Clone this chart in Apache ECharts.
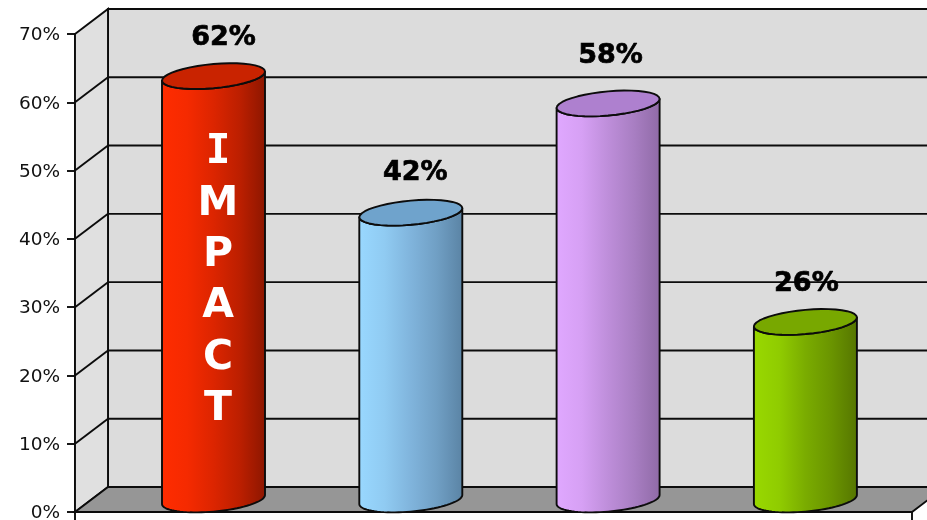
<!DOCTYPE html>
<html><head><meta charset="utf-8">
<style>html,body{margin:0;padding:0;background:#fff}#c{width:927px;height:520px}</style>
<script src="https://cdn.jsdelivr.net/npm/echarts@6/dist/echarts.min.js"></script>
</head><body><div id="c"></div>
<script>
const categories = ['A','B','C','D'];
const values = [62,42,58,26];
const yTicks = [0,10,20,30,40,50,60,70];
const barWord = ['I','M','P','A','C','T'];

// styling, separate from data
const DX=33, DY=-25, RX=51.5, TILT=4.5, RY=12.1, BAND=197.3, X0=197;
const labelNudgeX=[10,4.5,2.5,1];
const labelNudgeY=[1,0,-8,2];
const faces=[
 {stops:['#ff2c00','#f52a00','#dc2500','#bc1f00','#8c1600'],top:'#c92300'},
 {stops:['#99d8ff','#90cbf2','#80b4dc','#709fc4','#5a83a4'],top:'#6fa3cc'},
 {stops:['#e0a8ff','#d6a0f4','#be8eda','#a87ec2','#8f6aa6'],top:'#ae80cf'},
 {stops:['#99d900','#90cc00','#7aac00','#6a9400','#557500'],top:'#78a800'}
];
const INK='#0c0c0c';
const LW=1.9;

function ell(cx,cy,from,to){
  const pts=[];
  for(let i=0;i<=40;i++){
    const t=from+(to-from)*i/40;
    pts.push([cx+RX*Math.cos(t), cy-TILT*Math.cos(t)+RY*Math.sin(t)]);
  }
  return pts;
}
function frameItem(params,api){
  const p=(x,v)=>api.coord([x,v]);
  const l=xMin,r=xMax;
  const [x0,y0]=p(l,0), [x1]=p(r,0), [,y7]=p(l,70);
  const st={stroke:INK,lineWidth:LW,fill:null};
  const poly=(pts,fill)=>({type:'polygon',shape:{points:pts},style:{fill,stroke:INK,lineWidth:LW}});
  const line=(a,b)=>({type:'line',shape:{x1:a[0],y1:a[1],x2:b[0],y2:b[1]},style:st});
  const kids=[
    poly([[x0+DX,y7+DY],[x1+DX,y7+DY],[x1+DX,y0+DY],[x0+DX,y0+DY]],'#dcdcdc'),
    poly([[x0,y7],[x0+DX,y7+DY],[x0+DX,y0+DY],[x0,y0]],'#e0e0e0'),
    poly([[x0,y0],[x1,y0],[x1+DX,y0+DY],[x0+DX,y0+DY]],'#969696')
  ];
  yTicks.slice(1,-1).forEach(v=>{
    const y=p(l,v)[1];
    kids.push(line([x0,y],[x0+DX,y+DY]));
    kids.push(line([x0+DX,y+DY],[x1+DX,y+DY]));
  });
  return {type:'group',children:kids};
}
function cylItem(params,api){
  const i=api.value(0), v=api.value(1);
  const [x,yt]=api.coord([i,v]), [,yb]=api.coord([i,0]);
  const cx=x+DX/2, top=yt+DY/2, bot=yb+DY/2;
  const f=faces[i];
  const body=ell(cx,top,Math.PI,0).concat(ell(cx,bot,0,Math.PI));
  const kids=[
    {type:'polygon',shape:{points:body},style:{stroke:INK,lineWidth:LW,lineJoin:'round',
      fill:new echarts.graphic.LinearGradient(0,0,1,0,f.stops.map((c,k)=>({offset:k/(f.stops.length-1),color:c})))}},
    {type:'polygon',shape:{points:ell(cx,top,0,2*Math.PI)},style:{fill:f.top,stroke:INK,lineWidth:LW,lineJoin:'round'}},
    {type:'text',style:{text:v+'%',x:cx+labelNudgeX[i],y:top-39.5+labelNudgeY[i],align:'center',verticalAlign:'middle',
      font:'bold 27px "DejaVu Sans"',fill:'#000',stroke:'#000',lineWidth:0.7}}
  ];
  if(i===0){
    barWord.forEach((ch,k)=>{
      kids.push({type:'text',style:{text:ch,x:cx+4.5,y:152.5+k*51.4,align:'center',verticalAlign:'middle',
        font:(ch==='I'?'bold 41px "DejaVu Sans Mono"':'bold 41px "DejaVu Sans"'),fill:'#fff'}});
    });
  }
  return {type:'group',children:kids};
}

const xMin=(75-X0)/BAND, xMax=(912-X0)/BAND;
const chart=echarts.init(document.getElementById('c'),null,{renderer:'canvas'});
chart.setOption({
  animation:false,
  backgroundColor:'#fff',
  grid:{left:75,right:15,top:34,bottom:8,containLabel:false,outerBoundsMode:'none'},
  xAxis:{type:'value',min:xMin,max:xMax,splitLine:{show:false},axisLabel:{show:false},
    axisLine:{show:true,onZero:false,lineStyle:{color:INK,width:LW}},
    axisTick:{show:true,customValues:[xMin,xMax],length:8,lineStyle:{color:INK,width:LW}}},
  yAxis:{type:'value',min:0,max:70,interval:10,splitLine:{show:false},
    axisLine:{show:true,onZero:false,lineStyle:{color:INK,width:LW}},
    axisTick:{show:true,length:8,lineStyle:{color:INK,width:LW}},
    axisLabel:{formatter:'{t|{value}%}',margin:15,
      rich:{t:{fontFamily:'DejaVu Sans',fontSize:18.5,color:'#111',padding:[3,0,0,0]}}}},
  series:[
    {type:'custom',silent:true,clip:false,z:1,data:[[0,0]],renderItem:frameItem},
    {type:'custom',silent:true,clip:false,z:3,data:categories.map((c,i)=>[i,values[i]]),renderItem:cylItem}
  ]
});
</script></body></html>
